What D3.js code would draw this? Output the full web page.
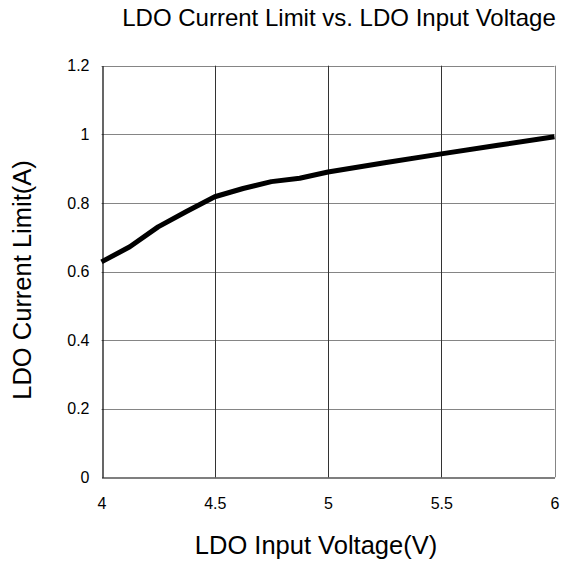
<!DOCTYPE html>
<meta charset="utf-8">
<style>
body { margin: 0; background: #fff; }
svg { font-family: "Liberation Sans", Arial, sans-serif; }
.tick text { font-size: 16px; fill: #000; }
.title { font-size: 24px; }
.axis-title { font-size: 25.5px; }
</style>
<body>
<script src="https://d3js.org/d3.v7.min.js"></script>
<script>
var width = 562,
    height = 567;

var margin = {top: 65.7, right: 7.5, bottom: 89.7, left: 101.5};

// LDO input voltage (V)
var voltage = [4, 4.125, 4.25, 4.375, 4.5, 4.625, 4.75, 4.875, 5, 5.25, 5.5, 5.75, 6];
// LDO current limit (A)
var currentLimit = [0.628, 0.672, 0.73, 0.775, 0.818, 0.842, 0.862, 0.872, 0.89, 0.917, 0.943, 0.968, 0.993];

var xTicks = [4, 4.5, 5, 5.5, 6];
var yTicks = [0, 0.2, 0.4, 0.6, 0.8, 1, 1.2];

var x = d3.scaleLinear()
    .domain([4, 6])
    .range([margin.left, width - margin.right]);

var y = d3.scaleLinear()
    .domain([0, 1.2])
    .range([height - margin.bottom, margin.top]);

var svg = d3.select("body").append("svg")
    .attr("width", width)
    .attr("height", height);

// horizontal grid
svg.append("g")
    .selectAll("line")
    .data(yTicks.filter(function(d) { return d > 0; }))
    .enter().append("line")
    .attr("x1", x(4))
    .attr("x2", x(6))
    .attr("y1", function(d) { return Math.round(y(d)) + 0.5; })
    .attr("y2", function(d) { return Math.round(y(d)) + 0.5; })
    .attr("stroke", "#858585");

// vertical grid
svg.append("g")
    .selectAll("line")
    .data(xTicks.filter(function(d) { return d > 4; }))
    .enter().append("line")
    .attr("x1", function(d) { return Math.round(x(d)) + 0.5; })
    .attr("x2", function(d) { return Math.round(x(d)) + 0.5; })
    .attr("y1", y(0))
    .attr("y2", y(1.2))
    .attr("stroke", function(d) { return d == 6 ? "#858585" : "#333"; });

var xAxis = d3.axisBottom(x)
    .tickValues(xTicks)
    .tickSize(0)
    .tickPadding(20)
    .tickFormat(d3.format("~g"));

var yAxis = d3.axisLeft(y)
    .tickValues(yTicks)
    .tickSize(0)
    .tickPadding(13)
    .tickFormat(d3.format("~g"));

svg.append("g")
    .attr("transform", "translate(0," + (Math.round(y(0)) + 0.5) + ")")
    .call(xAxis)
    .call(function(g) { g.select(".domain").attr("stroke", "#000").attr("stroke-width", 1.2); });

svg.append("g")
    .attr("transform", "translate(" + (Math.round(x(4)) + 0.5) + ",0)")
    .call(yAxis)
    .call(function(g) { g.select(".domain").attr("stroke", "#000").attr("stroke-width", 1.2); });

svg.selectAll(".tick text").attr("font-family", null).attr("font-size", null);

var line = d3.line()
    .x(function(d, i) { return x(voltage[i]); })
    .y(function(d) { return y(d); });

svg.append("path")
    .datum(currentLimit)
    .attr("fill", "none")
    .attr("stroke", "#000")
    .attr("stroke-width", 5)
    .attr("stroke-linejoin", "round")
    .attr("d", line);

svg.append("text")
    .attr("class", "title")
    .attr("x", 339)
    .attr("y", 26)
    .attr("text-anchor", "middle")
    .text("LDO Current Limit vs. LDO Input Voltage");

svg.append("text")
    .attr("class", "axis-title")
    .attr("x", 316)
    .attr("y", 554)
    .attr("text-anchor", "middle")
    .text("LDO Input Voltage(V)");

svg.append("text")
    .attr("class", "axis-title")
    .attr("transform", "translate(31,280) rotate(-90)")
    .attr("text-anchor", "middle")
    .text("LDO Current Limit(A)");
</script>
</body>
